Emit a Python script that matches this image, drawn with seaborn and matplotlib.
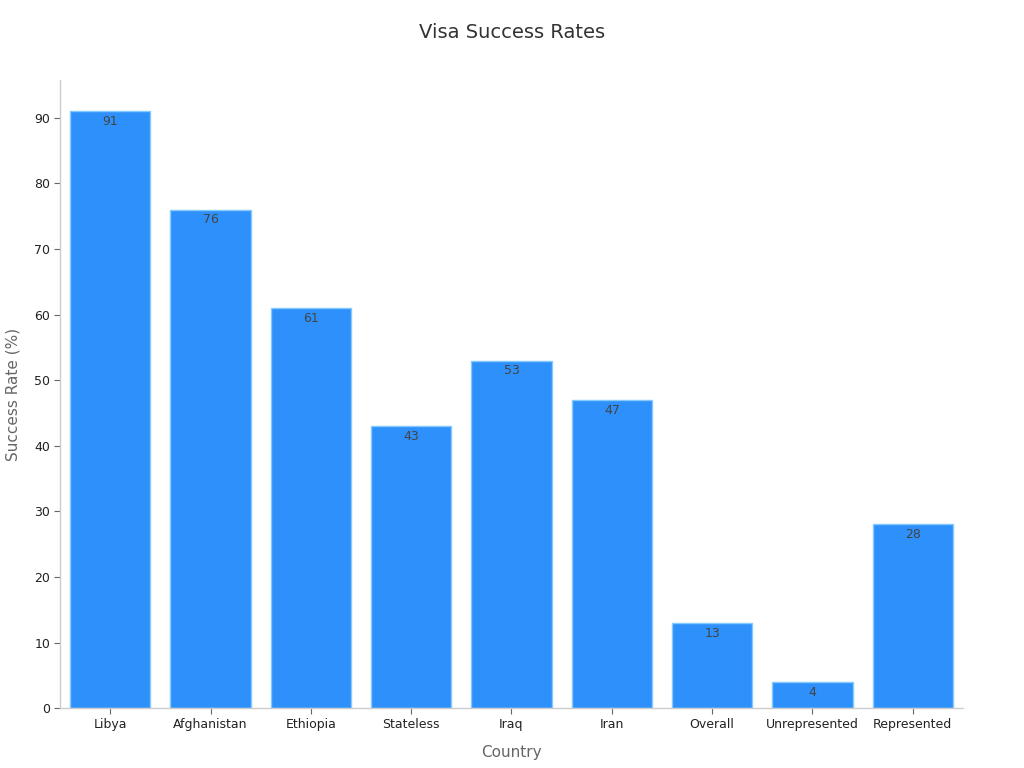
import matplotlib
matplotlib.use('Agg')
import matplotlib.pyplot as plt
import pandas as pd
import seaborn as sns

countries = ['Libya', 'Afghanistan', 'Ethiopia', 'Stateless', 'Iraq', 'Iran',
             'Overall', 'Unrepresented', 'Represented']
success_rates = [91, 76, 61, 43, 53, 47, 13, 4, 28]
y_ticks = [0, 10, 20, 30, 40, 50, 60, 70, 80, 90]

df = pd.DataFrame({'Country': countries, 'Rate': success_rates})

sns.set_style('white')
plt.rcParams['font.family'] = ['DejaVu Sans']

fig = plt.figure(figsize=(10.24, 7.68), dpi=100)
ax = fig.add_axes([0.0586, 0.078, 0.8818, 0.818])

sns.barplot(data=df, x='Country', y='Rate', color='#2E90FA', saturation=1,
            width=0.8, edgecolor='#84CAFF', linewidth=1, ax=ax)

# value labels just inside the top of each bar
for container in ax.containers:
    ax.bar_label(container, padding=-12, fontsize=9, color='#444444')

ax.set_xlim(-0.5, len(countries) - 0.5)
ax.set_ylim(0, 95.8)
ax.set_yticks(y_ticks)
ax.tick_params(axis='both', which='major', bottom=True, left=True,
               labelsize=9, labelcolor='#222222', length=4, width=0.8,
               color='#666666', pad=3)

for side in ['top', 'right']:
    ax.spines[side].set_visible(False)
for side in ['left', 'bottom']:
    ax.spines[side].set_color('#CCCCCC')
    ax.spines[side].set_linewidth(1)

ax.set_xlabel('Country', fontsize=11, color='#666666', labelpad=10)
ax.set_ylabel('Success Rate (%)', fontsize=11, color='#666666', labelpad=10)
fig.suptitle('Visa Success Rates', fontsize=14, color='#333333', y=0.97)

fig.savefig('out.png', dpi=100)
